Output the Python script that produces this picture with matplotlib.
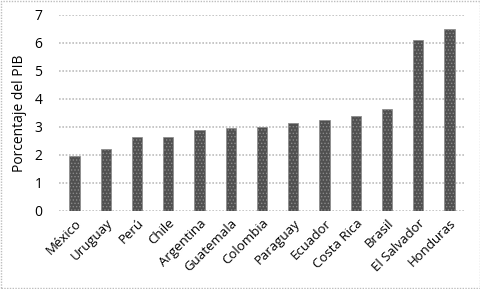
import matplotlib
matplotlib.use("Agg")
import matplotlib.pyplot as plt
from matplotlib.patches import Rectangle

countries = ["México", "Uruguay", "Perú", "Chile", "Argentina", "Guatemala", "Colombia",
             "Paraguay", "Ecuador", "Costa Rica", "Brasil", "El Salvador", "Honduras"]
values = [1.97, 2.2, 2.65, 2.65, 2.9, 2.95, 3.0, 3.15, 3.25, 3.4, 3.65, 6.1, 6.5]
yticks = [0, 1, 2, 3, 4, 5, 6, 7]

plt.rcParams['font.family'] = ['Open Sans', 'DejaVu Sans']
plt.rcParams['hatch.color'] = '#8a8a8a'
plt.rcParams['hatch.linewidth'] = 0.6

fig = plt.figure(figsize=(4.81, 2.89), dpi=100)
ax = fig.add_axes([59/481, 1 - 211/289, 406/481, 196/289])

x = list(range(len(countries)))
ax.bar(x, values, width=0.33, color='#505050', hatch='.....', edgecolor='#8a8a8a',
       linewidth=0.5, zorder=3)

ax.set_xlim(-0.5, len(countries) - 0.5)
ax.set_ylim(0, 7)
ax.set_yticks(yticks)
ax.set_yticklabels([str(t) for t in yticks], fontsize=10)
ax.set_xticks(x)
ax.set_xticklabels(countries, rotation=45, ha='right', rotation_mode='anchor', fontsize=9.5)
ax.tick_params(axis='both', length=0, pad=4)
ax.tick_params(axis='y', pad=12)
for s in ax.spines.values():
    s.set_visible(False)
ax.yaxis.grid(True, color='#bdbdbd', linestyle=(0, (1, 1)), linewidth=1.2, zorder=0)
ax.set_axisbelow(True)
ax.set_ylabel("Porcentaje del PIB", fontsize=10)
ax.yaxis.set_label_coords(-0.079, 0.5)

fig.patches.append(Rectangle((0.002, 0.003), 0.996, 0.994, transform=fig.transFigure,
                             fill=False, edgecolor='#bdbdbd', linestyle=(0, (1, 1)), linewidth=1))

fig.savefig("out.png", dpi=100)
